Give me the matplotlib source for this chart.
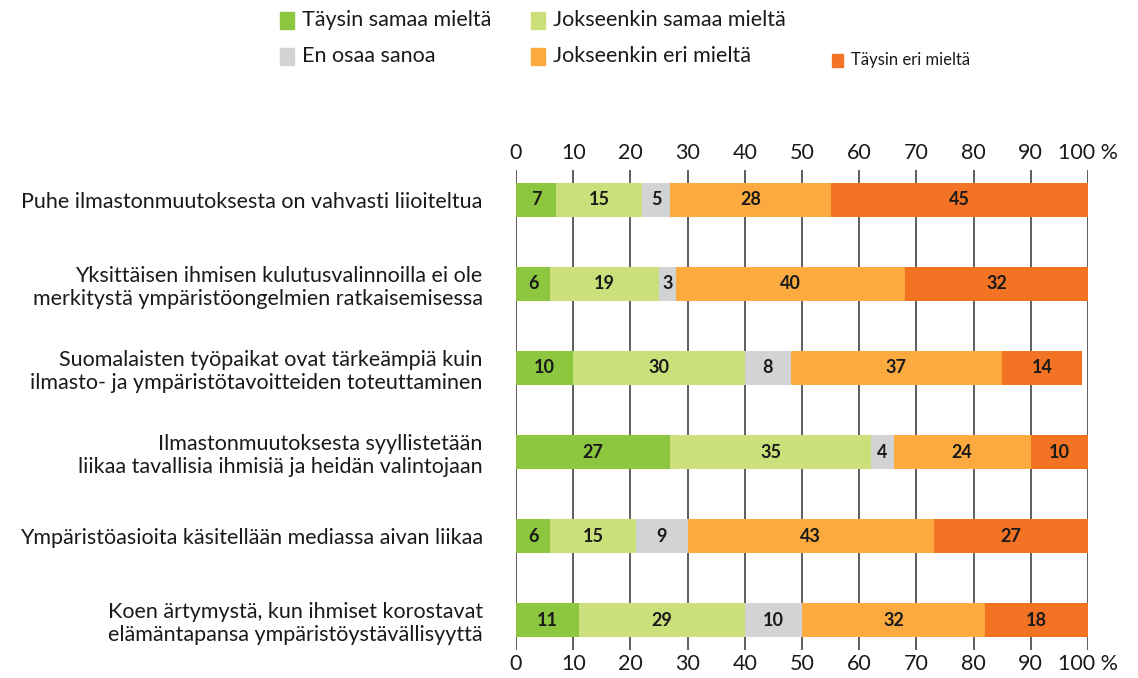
import numpy as np
import matplotlib
matplotlib.use("Agg")
from matplotlib import pyplot as plt
from matplotlib.patches import Rectangle

plt.rcParams['font.family'] = ['Lato', 'DejaVu Sans']

statements = [
    "Puhe ilmastonmuutoksesta on vahvasti liioiteltua",
    "Yksittäisen ihmisen kulutusvalinnoilla ei ole\nmerkitystä ympäristöongelmien ratkaisemisessa",
    "Suomalaisten työpaikat ovat tärkeämpiä kuin\nilmasto- ja ympäristötavoitteiden toteuttaminen",
    "Ilmastonmuutoksesta syyllistetään\nliikaa tavallisia ihmisiä ja heidän valintojaan",
    "Ympäristöasioita käsitellään mediassa aivan liikaa",
    "Koen ärtymystä, kun ihmiset korostavat\nelämäntapansa ympäristöystävällisyyttä",
]

answers = ["Täysin samaa mieltä", "Jokseenkin samaa mieltä", "En osaa sanoa",
           "Jokseenkin eri mieltä", "Täysin eri mieltä"]

fully_agree = [7, 6, 10, 27, 6, 11]
partly_agree = [15, 19, 30, 35, 15, 29]
dont_know = [5, 3, 8, 4, 9, 10]
partly_disagree = [28, 40, 37, 24, 43, 32]
fully_disagree = [45, 32, 14, 10, 27, 18]

ticks = list(range(0, 101, 10))
tick_labels = [str(t) for t in ticks[:-1]] + ["100 %"]

colors = ["#8DC63F", "#CBE07A", "#D1D3D4", "#FBAA3F", "#F37325"]

series = [fully_agree, partly_agree, dont_know, partly_disagree, fully_disagree]

W, H = 1138, 678
fig = plt.figure(figsize=(W / 100, H / 100), dpi=100)
ax = fig.add_axes([516 / W, 1 - 650 / H, (1088 - 516) / W, 480 / H])

y = np.arange(len(statements))
left = np.zeros(len(statements))
for vals, col in zip(series, colors):
    vals = np.array(vals)
    ax.barh(y, vals, left=left, height=0.405, color=col, zorder=3)
    for yi, l, v in zip(y, left, vals):
        ax.text(l + v / 2, yi, str(v), ha='center', va='center',
                fontsize=13, fontweight='bold', color='#1a1a1a', zorder=4)
    left = left + vals

ax.set_xlim(0, 100)
ax.set_ylim(5.357, -0.357)
ax.set_xticks(ticks)
ax.set_xticklabels(tick_labels)
ax.tick_params(axis='x', length=0, labelsize=15.5, colors='#1a1a1a', pad=3)

top = ax.secondary_xaxis('top')
top.set_xticks(ticks)
top.set_xticklabels(tick_labels)
top.tick_params(axis='x', length=0, labelsize=15.5, colors='#1a1a1a', pad=5)
top.spines['top'].set_visible(False)

ax.set_yticks(y)
ax.set_yticklabels(statements, fontsize=15.5, color='#1a1a1a', ha='right',
                   multialignment='right', linespacing=1.2)
ax.tick_params(axis='y', length=0, pad=24)

ax.xaxis.grid(True, color='#333333', linewidth=1.1, zorder=0)
ax.set_axisbelow(True)
for s in ax.spines.values():
    s.set_visible(False)

# legend drawn by hand, the layout is uneven in the original
legend_pos = [(280, 20, 14, 17, 15.5), (531, 20, 14, 17, 15.5), (280, 56, 14, 17, 15.5),
              (531, 56, 14, 17, 15.5), (832, 60, 11, 13, 12)]
for i, (x0, yc, w, h, fs) in enumerate(legend_pos):
    fig.patches.append(Rectangle((x0 / W, 1 - (yc + h / 2) / H), w / W, h / H,
                                 transform=fig.transFigure, color=colors[i]))
    fig.text((x0 + w + 8) / W, 1 - yc / H, answers[i], fontsize=fs,
             va='center', ha='left', color='#1a1a1a')

fig.savefig("out.png", dpi=100)
